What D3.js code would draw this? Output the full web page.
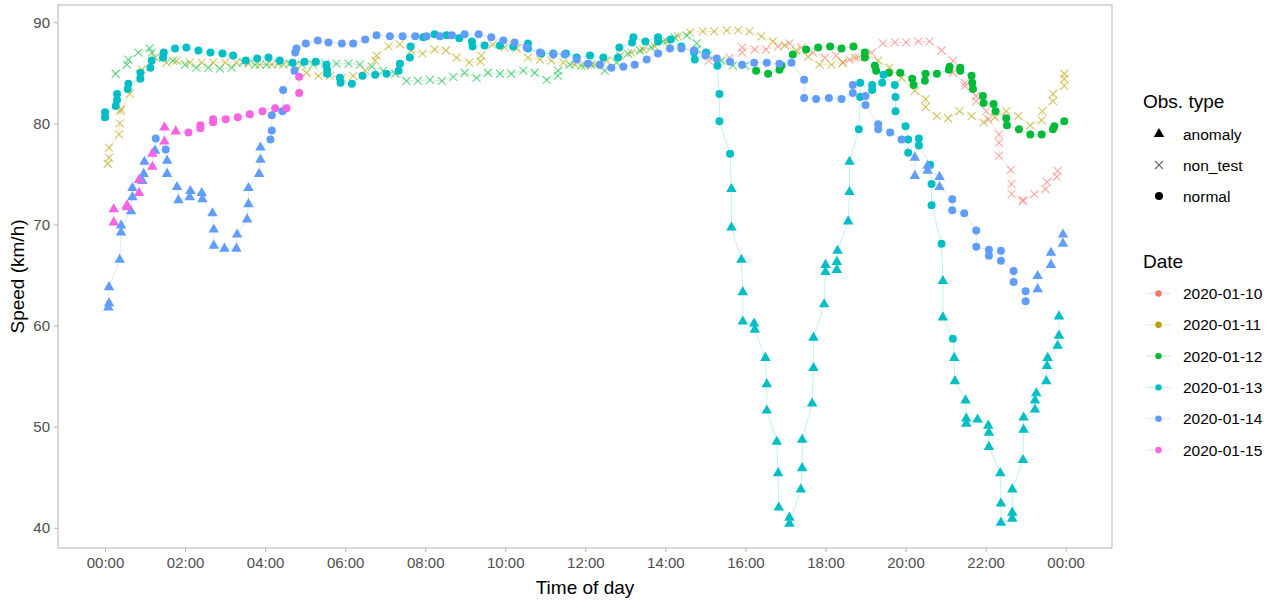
<!DOCTYPE html>
<html>
<head>
<meta charset="utf-8">
<script src="https://cdn.jsdelivr.net/npm/d3@7"></script>
<style>
  body { margin: 0; background: #fff; }
  text { font-family: "Liberation Sans", Arial, sans-serif; }
</style>
</head>
<body>
<svg id="chart" width="1274" height="601"></svg>
<script>
// ---- data (minutes after midnight, speed in km/h, obs type a/x/n) ----
const dates = ["2020-01-10", "2020-01-11", "2020-01-12", "2020-01-13", "2020-01-14", "2020-01-15"];
const dateColors = ["#F8766D", "#B79F00", "#00BA38", "#00BFC4", "#619CFF", "#F564E3"];
const obsTypes = ["anomaly", "non_test", "normal"];
const hourTicks = [0, 120, 240, 360, 480, 600, 720, 840, 960, 1080, 1200, 1320, 1440];
const speedTicks = [40, 50, 60, 70, 80, 90];

const d10Min = [905,936,955,955,974,991,1009,1026,1044,1061,1079,1096,1106,1116,1129,1149,1166,1184,1201,1219,
  1236,1254,1271,1271,1289,1289,1306,1306,1321,1324,1340,1340,1340,1358,1359,1359,1376,1376,1393,1410,1412,1427,1428];
const d10Speed = [86.2,86.5,87.0,87.5,87.3,87.3,87.6,87.9,87.5,87.0,86.5,86.7,86.0,86.3,86.5,87.0,87.9,88.0,88.0,88.1,
  88.1,87.2,86.2,85.0,84.0,83.7,82.7,82.2,81.2,80.4,78.9,78.1,76.8,75.4,74.0,73.0,72.4,72.3,73.0,73.5,74.2,74.7,75.3];
const d10Type = "xxxxxxxxxx xxxxxxxxxx xxxxxxxxxx xxxxxxxxxx xxx";

const d11Min = [4,6,6,21,22,23,24,37,52,55,75,92,107,127,145,162,180,197,215,232,
  250,267,285,302,320,337,355,372,390,405,407,425,442,459,476,494,511,527,546,563,
  564,581,599,617,634,652,669,687,704,719,734,752,772,789,807,824,842,859,877,896,
  913,932,949,966,984,1001,1019,1036,1054,1071,1089,1106,1124,1141,1159,1176,1194,1214,1230,1230,
  1247,1264,1281,1299,1317,1334,1351,1369,1387,1404,1405,1421,1421,1438,1438,1438];
const d11Speed = [76.0,76.6,77.6,78.9,80.0,81.2,81.4,82.9,84.9,85.3,86.5,86.0,86.2,86.0,86.0,86.0,86.0,86.0,85.9,85.8,
  85.8,85.8,85.7,85.0,84.7,84.7,84.5,84.7,85.2,86.2,86.7,87.6,87.8,87.2,86.9,87.3,87.2,86.5,86.0,86.1,
  86.7,87.8,87.5,87.4,86.5,86.3,86.2,86.0,85.8,85.7,85.8,86.2,86.7,87.0,87.3,87.6,88.1,88.6,89.0,89.1,
  89.1,89.2,89.2,89.1,88.6,88.1,87.7,87.2,86.6,85.8,85.8,86.0,86.5,86.8,86.2,85.5,84.5,83.2,82.4,81.6,
  80.7,80.5,81.2,80.7,80.1,80.6,81.2,80.7,79.8,80.3,81.2,82.2,82.9,83.7,84.4,84.9];
const d11Type = "xxxxxxxxxx xxxxxxxxxx xxxxxxxxxx xxxxxxxxxx xxxxxxxxxx xxxxxxxxxx xxxxxxxxxx xxxxxxxxxx xxxxxxxxxx xxxxxx";

const d12Min = [16,33,35,50,67,70,87,102,120,137,155,172,190,207,225,242,260,277,295,312,
  330,347,365,382,400,417,435,452,469,487,505,522,539,557,574,592,609,627,644,662,
  679,679,697,714,729,749,767,784,802,819,837,854,872,887,887,904,924,941,959,
  976,994,1011,1014,1031,1051,1069,1087,1104,1122,1139,1139,1154,1156,1175,1192,1210,1212,1229,1230,
  1247,1265,1266,1282,1282,1299,1300,1301,1316,1317,1332,1335,1351,1352,1370,1387,1404,1421,1423,1438];
const d12Speed = [84.9,85.8,86.3,87.0,87.4,87.0,86.5,86.2,85.8,85.5,85.5,85.4,85.5,86.0,85.8,85.8,85.9,85.9,85.8,85.8,
  85.9,85.9,85.9,85.8,85.6,85.2,84.9,84.2,84.2,84.3,84.2,84.6,85.0,84.5,85.0,84.9,84.9,85.2,85.0,84.3,
  84.7,85.2,85.8,85.7,85.8,85.2,86.0,86.9,87.2,87.5,88.1,88.5,88.7,87.9,87.3,86.7,86.2,85.7,85.7,
  85.2,84.9,85.3,85.7,86.8,87.3,87.5,87.6,87.4,87.6,87.0,86.5,85.7,85.2,85.0,85.0,84.4,83.8,84.2,84.9,
  84.9,85.3,85.6,85.5,85.2,84.7,84.0,83.4,82.7,82.0,81.9,81.2,80.5,79.8,79.4,78.9,78.9,79.4,79.7,80.2];
const d12Type = "xxxxxxxxxx xxxxxxxxxx xxxxxxxxxx xxxxxxxxxx xxxxxxxxxx xxxxxxxxx " +
  "nnnnnnnnnn nnnnnnnnnn nnnnnnnnnn nnnnnnnnnn";

const d13Min = [0,0,16,18,18,34,35,53,53,68,70,87,88,105,122,140,158,176,192,211,228,245,262,
  281,299,316,332,333,333,352,353,370,386,405,422,440,442,457,458,477,494,512,531,
  550,551,569,592,612,634,634,654,672,691,707,727,747,769,771,790,792,810,829,829,
  848,864,883,884,901,918,921,921,937,
  939,939,954,956,956,973,974,990,992,992,1007,1009,1010,1026,1026,1043,1045,1045,1060,1062,
  1062,1078,1080,1080,1097,1097,1098,1114,1116,1116,
  1130,1132,1132,1150,1150,1165,1167,1184,1185,1185,1200,1204,1204,1220,1220,1237,1239,1239,1254,
  1256,1256,1271,
  1273,1274,1290,1291,1291,1308,1324,1325,1325,1342,1343,1343,1360,1360,1360,1376,1377,1377,1394,1394,
  1396,1411,1412,1413,1428,1430,1430];
const d13Speed = [80.6,81.1,81.7,82.3,82.9,83.4,83.9,84.4,85.0,85.5,86.2,86.5,87.0,87.4,87.5,87.2,87.0,86.9,86.7,86.2,86.4,86.5,86.2,
  86.0,86.1,86.1,85.8,85.3,84.9,84.5,84.0,83.9,84.7,84.8,84.9,85.2,85.9,86.5,87.6,88.5,88.8,88.7,88.4,
  88.1,87.6,87.7,87.7,87.6,87.9,87.4,86.9,86.9,86.9,86.5,86.7,86.5,86.5,87.5,88.0,88.5,88.1,88.5,88.1,
  88.3,87.6,87.0,86.3,87.0,85.7,82.9,80.2,77.0,
  73.5,69.7,66.5,63.3,60.4,60.2,59.6,56.8,54.2,51.6,48.5,45.4,42.0,41.0,40.4,43.8,45.9,48.7,52.3,55.8,
  58.8,62.1,65.3,66.0,65.5,66.3,67.4,70.3,73.2,76.2,
  79.4,82.6,84.0,83.3,83.8,84.0,84.8,83.8,82.6,81.2,79.7,78.4,77.1,78.5,77.8,75.9,74.0,71.9,68.1,
  64.4,60.8,58.7,
  56.8,54.5,52.6,50.8,50.3,50.7,50.1,49.4,48.0,45.4,42.4,40.5,40.9,41.5,43.8,46.7,49.7,50.9,51.7,52.6,
  53.3,54.5,56.0,56.8,58.0,59.0,60.9];
const d13Type = "nnnnnnnnnnnnnnnnnnnnnnn nnnnnnnnnnnnnnnnnnnn nnnnnnnnnnnnnnnnnnnn nnnnnnnnn " +
  "aaaaaaaaaaaaaaaaaaaa aaaaaaaaaa nnnnnnnnnnnnnnnnnnn aan " +
  "aaaaaaaaaaaaaaaaaaaa aaaaaaa";

const d14Min = [5,6,6,22,24,24,39,41,41,56,58,59,75,76,91,93,93,108,110,127,128,145,146,161,163,163,179,197,198,
  213,215,215,231,233,233,248,250,250,266,267,284,285,287,301,319,335,
  355,372,390,407,427,446,465,482,502,520,539,560,579,597,614,632,652,672,689,707,
  724,742,759,777,794,812,829,847,864,883,900,917,937,955,973,992,1011,1029,
  1048,1048,1066,1085,1104,1121,1121,1140,1140,1159,1159,1177,1194,
  1214,1214,1233,1233,1251,1251,1270,1270,1288,
  1306,1306,1325,1325,1343,1343,1362,1362,1380,1380,1398,1398,1418,1418,1436,1436];
const d14Speed = [61.8,62.2,63.8,66.5,69.2,69.9,71.3,72.7,73.6,74.3,75.0,76.2,77.3,78.5,77.4,76.3,75.0,73.7,72.4,72.7,73.3,73.1,72.5,71.1,69.5,67.9,67.6,67.6,69.0,
  70.5,72.0,73.6,75.0,76.4,77.6,78.4,79.3,80.8,81.2,83.3,85.2,87.0,87.4,87.9,88.2,88.0,
  87.9,87.9,88.3,88.7,88.6,88.6,88.6,88.6,88.6,88.7,88.8,88.8,88.5,88.2,88.0,87.5,87.0,86.8,86.8,86.3,
  85.9,85.8,85.5,85.6,85.8,86.3,86.9,87.4,87.4,87.2,86.7,86.4,86.1,85.8,86.0,86.0,85.9,86.0,
  84.3,82.5,82.4,82.5,82.4,83.0,83.8,82.7,81.8,79.9,79.4,79.1,78.4,
  76.6,74.8,75.8,75.3,74.7,73.7,72.5,71.4,71.1,
  69.4,67.8,67.5,66.9,67.4,66.4,65.4,64.3,63.4,62.4,63.6,64.9,66.0,67.2,68.1,69.0];
const d14Type = "aaaaaaaaaaaaa nn aaaaaaaaaaaaaaaaaaaa " +
  "nnnnnnnnnnnnnnnnnnnnnnnnnnnnnnnnnnnnnnnnnnnnnnnnnnnnnnnnnnnnnn " +
  "aaaaaa nnnnnnnnnnnnn aaaaaa";

const d15Min = [13,13,33,33,51,51,71,71,89,89,106,125,143,143,162,162,181,199,217,236,255,272,291,291];
const d15Speed = [70.2,71.5,71.7,71.9,73.1,74.4,75.7,77.0,78.2,79.6,79.2,79.1,79.5,79.8,80.1,80.4,80.4,80.6,80.9,81.2,81.5,81.5,83.0,84.6];
const d15Type = "aaaaaaaaaaa nnnnnnnnnnnnn";

// ---- build rows ----
const typeNames = { a: "anomaly", x: "non_test", n: "normal" };
const seriesDefs = [
  [d10Min, d10Speed, d10Type], [d11Min, d11Speed, d11Type], [d12Min, d12Speed, d12Type],
  [d13Min, d13Speed, d13Type], [d14Min, d14Speed, d14Type], [d15Min, d15Speed, d15Type]
];
const series = seriesDefs.map(([mins, speeds, types], i) => {
  const t = types.replace(/\s/g, "").split("");
  if (t.length !== mins.length || speeds.length !== mins.length) console.error("length mismatch", dates[i], mins.length, speeds.length, t.length);
  return {
    date: dates[i],
    color: dateColors[i],
    points: mins.map((m, j) => ({ m: m, v: speeds[j], type: typeNames[t[j]] }))
  };
});

// ---- layout ----
const svg = d3.select("#chart");
const panel = { left: 58, right: 1112, top: 5, bottom: 548 };

const x = d3.scaleLinear().domain([-70.5, 1509.5]).range([panel.left, panel.right]);
const y = d3.scaleLinear().domain([38.0, 91.7]).range([panel.bottom, panel.top]);

const tickGrey = "#B3B3B3";
const labelGrey = "#4D4D4D";

// axes
const xAxis = svg.append("g")
  .attr("transform", `translate(0,${panel.bottom})`)
  .call(d3.axisBottom(x).tickValues(hourTicks).tickSize(4).tickPadding(5)
    .tickFormat(m => String(Math.floor(m / 60) % 24).padStart(2, "0") + ":00"));
const yAxis = svg.append("g")
  .attr("transform", `translate(${panel.left},0)`)
  .call(d3.axisLeft(y).tickValues(speedTicks).tickSize(4).tickPadding(4));
[xAxis, yAxis].forEach(g => {
  g.select(".domain").remove();
  g.selectAll(".tick line").attr("stroke", tickGrey);
  g.selectAll(".tick text").attr("fill", labelGrey).style("font-size", "15px")
    .style("font-family", "'Liberation Sans', Arial, sans-serif");
});

// panel border
svg.append("rect")
  .attr("x", panel.left).attr("y", panel.top)
  .attr("width", panel.right - panel.left).attr("height", panel.bottom - panel.top)
  .attr("fill", "none").attr("stroke", tickGrey).attr("stroke-width", 1);

// axis titles
svg.append("text")
  .attr("x", (panel.left + panel.right) / 2).attr("y", 594)
  .attr("text-anchor", "middle").style("font-size", "19px").attr("fill", "#000")
  .text("Time of day");
svg.append("text")
  .attr("transform", `translate(24,${(panel.top + panel.bottom) / 2}) rotate(-90)`)
  .attr("text-anchor", "middle").style("font-size", "19px").attr("fill", "#000")
  .text("Speed (km/h)");

// symbols
const triPath = d3.symbol().type(d3.symbolTriangle).size(48)();
const crossPath = "M-4,-4L4,4M-4,4L4,-4";
function drawShape(sel, type, color) {
  if (type === "anomaly") {
    sel.append("path").attr("d", triPath).attr("fill", color);
  } else if (type === "non_test") {
    sel.append("path").attr("d", crossPath).attr("fill", "none")
      .attr("stroke", color).attr("stroke-width", 1.1).attr("stroke-opacity", 0.6);
  } else {
    sel.append("circle").attr("r", 4).attr("fill", color);
  }
}

// lines
const line = d3.line().x(d => x(d.m)).y(d => y(d.v));
const plot = svg.append("g");
series.forEach(s => {
  plot.append("path")
    .datum(s.points)
    .attr("d", line)
    .attr("fill", "none")
    .attr("stroke", s.color)
    .attr("stroke-opacity", 0.3)
    .attr("stroke-width", 0.8);
});

// points
series.forEach(s => {
  plot.append("g").selectAll("g")
    .data(s.points)
    .join("g")
    .attr("transform", d => `translate(${x(d.m)},${y(d.v)})`)
    .each(function (d) { drawShape(d3.select(this), d.type, s.color); });
});

// ---- legends ----
const legend = svg.append("g");
legend.append("text").attr("x", 1143).attr("y", 108).style("font-size", "19px").text("Obs. type");
obsTypes.forEach((t, i) => {
  const cy = 134 + i * 31;
  const g = legend.append("g").attr("transform", `translate(1159,${cy})`);
  drawShape(g, t, "#000");
  legend.append("text").attr("x", 1183).attr("y", cy + 5.5).style("font-size", "15.5px").text(t);
});

legend.append("text").attr("x", 1143).attr("y", 268).style("font-size", "19px").text("Date");
dates.forEach((d, i) => {
  const cy = 293.5 + i * 31.3;
  legend.append("line").attr("x1", 1146).attr("x2", 1171).attr("y1", cy).attr("y2", cy)
    .attr("stroke", dateColors[i]).attr("stroke-opacity", 0.3).attr("stroke-width", 0.8);
  legend.append("circle").attr("cx", 1158.5).attr("cy", cy).attr("r", 3.2).attr("fill", dateColors[i]);
  legend.append("text").attr("x", 1183).attr("y", cy + 5.5).style("font-size", "15.5px").text(d);
});
</script>
</body>
</html>
